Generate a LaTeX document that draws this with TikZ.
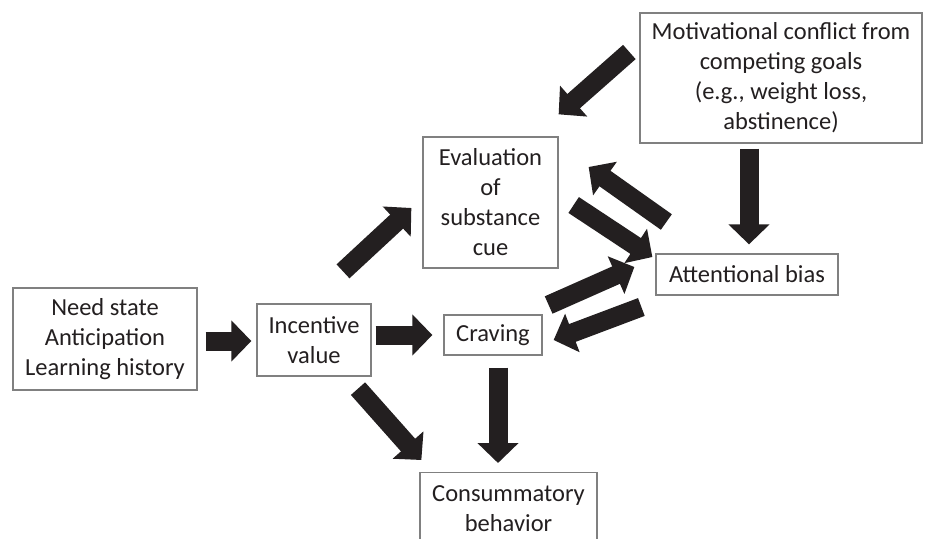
\documentclass[tikz,border=0pt]{standalone}
\usepackage{fontspec}
\setmainfont{Carlito}
\usetikzlibrary{arrows.meta,calc}
\definecolor{ink}{HTML}{231F20}
\definecolor{frame}{HTML}{808080}
\begin{document}
\begin{tikzpicture}[x=1pt,y=-1pt,
  box/.style={draw=frame,line width=1.3pt,fill=white,text=ink,align=center,inner sep=0pt,
    font=\fontsize{24.5}{30}\selectfont},
  bigarrow/.style={draw=ink,line width=19pt,-{Triangle[length=20pt,width=40pt]}}]
\clip (0,0) rectangle (931,538);
\fill[white] (0,0) rectangle (931,538);
\node[box,minimum width=184pt,minimum height=102pt] (need) at (105,339) {Need state\\Anticipation\\Learning history};
\node[box,minimum width=114pt,minimum height=72pt] (inc) at (314,340) {Incentive\\value};
\node[box,minimum width=98pt,minimum height=40pt] (crav) at (493,335) {Craving};
\node[box,minimum width=135pt,minimum height=131pt] (eval) at (490.5,202.5) {Evaluation\\of\\substance\\cue};
\node[box,minimum width=182pt,minimum height=41pt] (att) at (747,274.5) {Attentional bias};
\node[box,minimum width=282pt,minimum height=130pt] (mot) at (781,78) {Motivational conflict from\\competing goals\\(e.g., weight loss,\\abstinence)};
\node[box,minimum width=177pt,minimum height=72pt,anchor=north] (cons) at (508.5,472) {Consummatory\\behavior};
% arrows
\draw[bigarrow] ($(need.east)+(8,2)$) -- ($(inc.west)+(-5,1)$);
\draw[bigarrow] ($(inc.east)+(4,-5)$) -- ($(crav.west)+(-11,0)$);
\draw[bigarrow] ($(inc.north)+(29,-32)$) -- ($(eval.west)+(-11,5.5)$);
\draw[bigarrow] ($(inc.south)+(44,12)$) -- ($(cons.north west)+(2,-12)$);
\draw[bigarrow] ($(crav.south)+(5,12)$) -- ($(cons.north)+(-10.5,-9)$);
\draw[bigarrow] ($(mot.west)+(-10,-26)$) -- ($(eval.north east)+(0,-22)$);
\draw[bigarrow] ($(mot.south)+(-32,5)$) -- ($(att.north)+(2,-9)$);
\draw[bigarrow] ($(eval.east)+(15,2.5)$) -- ($(att.west)+(-3,-17.5)$);
\draw[bigarrow] ($(att.west)+(11,-52.5)$) -- ($(eval.east)+(30,-35.5)$);
\draw[bigarrow] ($(crav.east)+(6,-30)$) -- ($(att.west)+(-21,-7.5)$);
\draw[bigarrow] ($(att.west)+(-14,32.5)$) -- ($(crav.east)+(11,5)$);
\end{tikzpicture}
\end{document}
